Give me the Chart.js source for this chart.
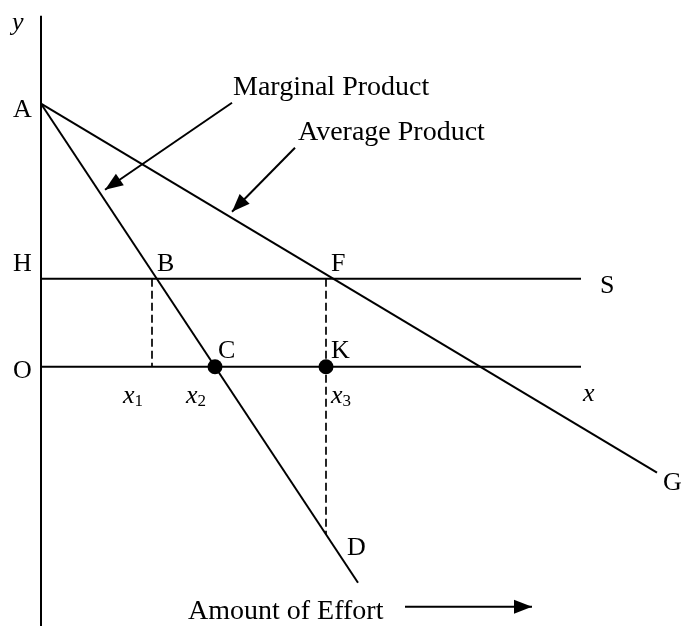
<!DOCTYPE html>
<html>
<head>
<meta charset="utf-8">
<script src="https://cdn.jsdelivr.net/npm/chart.js@4/dist/chart.umd.min.js"></script>
<style>
    html, body { margin: 0; padding: 0; background: #fff; }
    #wrap { width: 685px; height: 626px; position: relative; }
</style>
</head>
<body>
<div id="wrap"><canvas id="canvasChart"></canvas></div>
<script>
// lines of the diagram, in effort (x) / product (y) units, origin at O
const EIXO_Y = [{ x: 0, y: 35.1 }, { x: 0, y: -26 }];
const EIXO_X = [{ x: 0, y: 0 }, { x: 54, y: 0 }];
const LINHA_HS = [{ x: 0, y: 8.8 }, { x: 54, y: 8.8 }];
const PRODUTO_MARGINAL = [{ x: 0, y: 26.3 }, { x: 31.7, y: -21.6 }];
const PRODUTO_MEDIO = [{ x: 0, y: 26.3 }, { x: 61.6, y: -10.6 }];
const QUEDA_B = [{ x: 11.1, y: 8.8 }, { x: 11.1, y: 0 }];
const QUEDA_F = [{ x: 28.5, y: 8.8 }, { x: 28.5, y: -16.8 }];
const PONTOS = [{ x: 17.4, y: 0 }, { x: 28.5, y: 0 }];
const SETA_MP = [{ x: 19.1, y: 26.4 }, { x: 6.4, y: 17.7 }];
const SETA_AP = [{ x: 25.4, y: 21.9 }, { x: 19.1, y: 15.5 }];
const SETA_ESFORCO = [{ x: 36.4, y: -24.0 }, { x: 49.1, y: -24.0 }];

// text labels: text, optional subscript, anchor (left / baseline)
const ROTULOS = [
    { t: 'y', italic: true, x: -2.9, y: 33.7 },
    { t: 'A', x: -2.8, y: 25.0 },
    { t: 'H', x: -2.8, y: 9.6 },
    { t: 'O', x: -2.8, y: -1.1 },
    { t: 'B', x: 11.6, y: 9.6 },
    { t: 'F', x: 29.0, y: 9.6 },
    { t: 'S', x: 55.9, y: 7.4 },
    { t: 'C', x: 17.7, y: 0.9 },
    { t: 'K', x: 29.0, y: 0.9 },
    { t: 'x', italic: true, sub: '1', x: 8.2, y: -3.6 },
    { t: 'x', italic: true, sub: '2', x: 14.5, y: -3.6 },
    { t: 'x', italic: true, sub: '3', x: 29.0, y: -3.6 },
    { t: 'x', italic: true, x: 54.2, y: -3.4 },
    { t: 'G', x: 62.2, y: -12.3 },
    { t: 'D', x: 30.6, y: -18.8 },
    { t: 'Marginal Product', big: true, x: 19.2, y: 27.2 },
    { t: 'Average Product', big: true, x: 25.7, y: 22.7 },
    { t: 'Amount of Effort', big: true, x: 14.7, y: -25.2 }
];

const linha = (data, extra) => Object.assign({
    data,
    showLine: true,
    borderColor: '#000',
    backgroundColor: '#000',
    borderWidth: 2,
    pointRadius: 0,
    fill: false
}, extra || {});

const rotulosPlugin = {
    id: 'rotulos',
    afterDatasetsDraw(chart) {
        const ctx = chart.ctx;
        const sx = chart.scales.x, sy = chart.scales.y;
        ctx.save();
        ctx.fillStyle = '#000';
        ctx.textBaseline = 'alphabetic';
        ctx.textAlign = 'left';
        ROTULOS.forEach(r => {
            let px = sx.getPixelForValue(r.x);
            let py = sy.getPixelForValue(r.y);
            let size = r.big ? 28 : 26;
            ctx.font = (r.italic ? 'italic ' : '') + size + 'px "Liberation Serif", "Times New Roman", serif';
            ctx.fillText(r.t, px, py);
            if (r.sub) {
                let w = ctx.measureText(r.t).width;
                ctx.font = '17px "Liberation Serif", "Times New Roman", serif';
                ctx.fillText(r.sub, px + w, py + 3);
            }
        });
        ctx.restore();
    }
};

// draws a filled arrowhead at the last point of datasets marked with seta
const setasPlugin = {
    id: 'setas',
    afterDatasetsDraw(chart) {
        const ctx = chart.ctx;
        chart.data.datasets.forEach((ds, i) => {
            if (!ds.seta)
                return;
            let pts = chart.getDatasetMeta(i).data;
            let a = pts[pts.length - 2], b = pts[pts.length - 1];
            let ang = Math.atan2(b.y - a.y, b.x - a.x);
            let len = 18, half = 7;
            ctx.save();
            ctx.translate(b.x, b.y);
            ctx.rotate(ang);
            ctx.beginPath();
            ctx.moveTo(0, 0);
            ctx.lineTo(-len, -half);
            ctx.lineTo(-len, half);
            ctx.closePath();
            ctx.fillStyle = '#000';
            ctx.fill();
            ctx.restore();
        });
    }
};

try {
    let ctx = document.querySelector('#canvasChart');
    let myChart = new Chart(ctx, {
        type: 'scatter',
        data: {
            datasets: [
                linha(EIXO_Y),
                linha(EIXO_X),
                linha(LINHA_HS),
                linha(PRODUTO_MARGINAL),
                linha(PRODUTO_MEDIO),
                linha(QUEDA_B, { borderWidth: 1.7, borderDash: [8, 4] }),
                linha(QUEDA_F, { borderWidth: 1.7, borderDash: [8, 4] }),
                linha(SETA_MP, { seta: true }),
                linha(SETA_AP, { seta: true }),
                linha(SETA_ESFORCO, { seta: true }),
                {
                    data: PONTOS,
                    showLine: false,
                    pointRadius: 7.5,
                    pointBackgroundColor: '#000',
                    pointBorderColor: '#000',
                    pointBorderWidth: 0
                }
            ]
        },
        options: {
            responsive: true,
            maintainAspectRatio: false,
            animation: false,
            layout: { padding: 0, autoPadding: false },
            plugins: {
                legend: { display: false },
                tooltip: { enabled: false }
            },
            scales: {
                x: { type: 'linear', min: -4.1, max: 64.4, display: false },
                y: { type: 'linear', min: -25.93, max: 36.67, display: false }
            }
        },
        plugins: [rotulosPlugin, setasPlugin]
    });
}
catch (exception) {
    console.error('Erro ao montar o gráfico: ' + exception);
}
</script>
</body>
</html>
